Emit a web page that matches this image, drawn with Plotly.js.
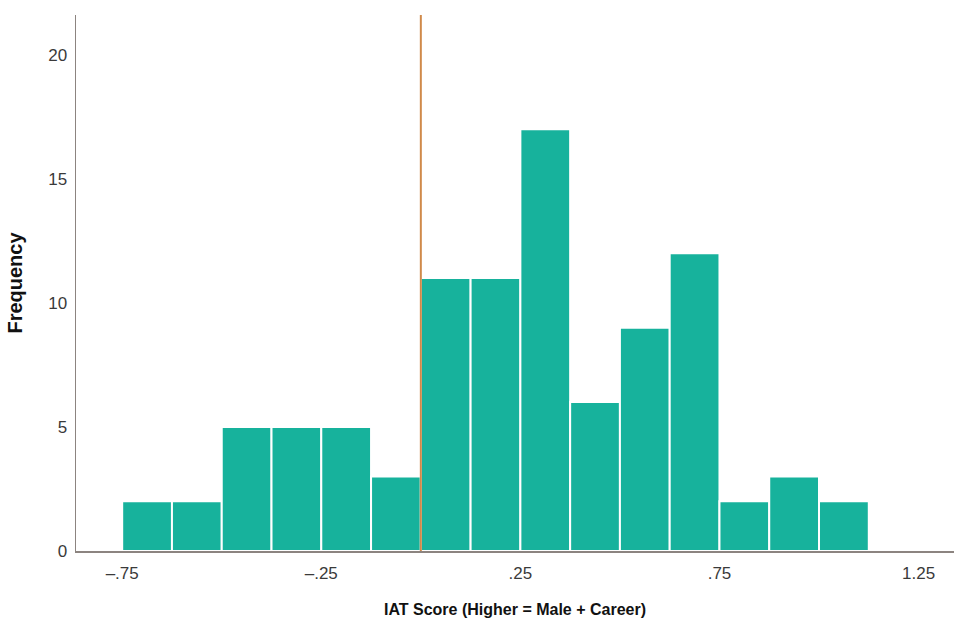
<!DOCTYPE html>
<html>
<head>
<meta charset="utf-8">
<script src="https://cdn.plot.ly/plotly-3.0.1.min.js"></script>
<style>html,body{margin:0;padding:0;background:#fff;}#chart{width:954px;height:618px;}</style>
</head>
<body>
<div id="chart"></div>
<script>
// Histogram bin left edges (IAT score) and frequencies
const binEdges = [-0.75, -0.625, -0.5, -0.375, -0.25, -0.125, 0, 0.125, 0.25, 0.375, 0.5, 0.625, 0.75, 0.875, 1.0];
const binWidth = 0.125;
const counts = [2, 2, 5, 5, 5, 3, 11, 11, 17, 6, 9, 12, 2, 3, 2];
const xTickVals = [-0.75, -0.25, 0.25, 0.75, 1.25];
const xTickText = ['\u2013.75', '\u2013.25', '.25', '.75', '1.25'];
const yTickVals = [0, 5, 10, 15, 20];
const refLineX = 0;

const centers = binEdges.map(e => e + binWidth / 2);

const trace = {
  type: 'bar',
  x: centers,
  y: counts,
  width: binEdges.map(() => binWidth),
  marker: { color: '#17b29c', line: { color: '#ffffff', width: 2 } },
  hoverinfo: 'x+y'
};

const layout = {
  width: 954,
  height: 618,
  margin: { l: 76, r: 0, t: 15, b: 67 },
  paper_bgcolor: '#ffffff',
  plot_bgcolor: '#ffffff',
  showlegend: false,
  font: { family: 'Liberation Sans, Arial, sans-serif', color: '#3a3a3a', size: 17 },
  xaxis: {
    range: [-0.866, 1.339],
    tickvals: xTickVals,
    ticktext: xTickText,
    showgrid: false,
    zeroline: false,
    showline: true,
    linecolor: '#8c8480',
    linewidth: 1.5,
    ticks: '',
    ticklabelstandoff: 6,
    tickfont: { size: 17, color: '#3a3a3a' },
    title: { text: '<b>IAT Score (Higher = Male + Career)</b>', font: { size: 16, color: '#111111' }, standoff: 26 }
  },
  yaxis: {
    range: [0, 21.6],
    tickvals: yTickVals,
    showgrid: false,
    zeroline: false,
    showline: true,
    linecolor: '#8c8480',
    linewidth: 1.5,
    ticks: '',
    ticklabelstandoff: 4,
    tickfont: { size: 17, color: '#3a3a3a' },
    title: { text: '<b>Frequency</b>', font: { size: 20, color: '#111111' }, standoff: 20 }
  },
  shapes: [{
    type: 'line', xref: 'x', yref: 'paper',
    x0: refLineX, x1: refLineX, y0: 0, y1: 1,
    line: { color: '#d08a4a', width: 2 }
  }]
};

Plotly.newPlot('chart', [trace], layout, { displayModeBar: false, staticPlot: true });
</script>
</body>
</html>
